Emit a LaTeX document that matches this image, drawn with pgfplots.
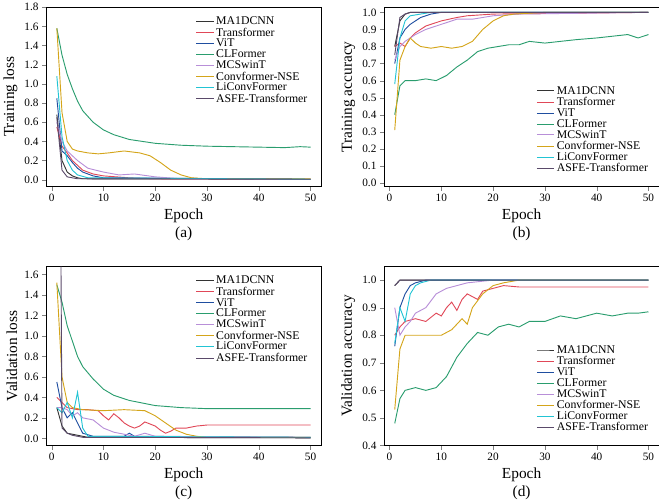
\documentclass[border=0pt]{standalone}
\usepackage{pgfplots}
\pgfplotsset{compat=1.18}
\usepgfplotslibrary{groupplots}
\usepackage{fontspec}
\setmainfont{Liberation Serif}
\definecolor{cA}{HTML}{333333}
\definecolor{cB}{HTML}{E04858}
\definecolor{cC}{HTML}{1F4EA0}
\definecolor{cD}{HTML}{2A9D6E}
\definecolor{cE}{HTML}{B88FD8}
\definecolor{cF}{HTML}{D4A51A}
\definecolor{cG}{HTML}{22C4D4}
\definecolor{cH}{HTML}{5A4A6A}
\begin{document}
\begin{tikzpicture}
\begin{groupplot}[group style={group size=2 by 2, horizontal sep=62pt, vertical sep=78pt},
 scale only axis, width=268pt, height=175pt,
 xmin=-1, xmax=52, xtick={0,10,...,50},
 /pgf/number format/assume math mode=true,
 tick label style={font=\fontsize{11}{12}\selectfont},
 label style={font=\fontsize{15}{17}\selectfont},
 xlabel style={align=center},
 legend style={draw=none, fill=none, font=\fontsize{11.5}{12}\selectfont, row sep=-2.5pt},
 legend cell align=left,
 every axis plot/.append style={line width=0.9pt, no marks},
 tick align=outside, xtick pos=bottom, ytick pos=left,
 yticklabel style={/pgf/number format/fixed, /pgf/number format/precision=1, /pgf/number format/fixed zerofill},
 xticklabel style={/pgf/number format/precision=0}]
% (a)
\nextgroupplot[ylabel={Training loss}, xlabel={Epoch\\(a)}, ymin=-0.07, ymax=1.8, ytick={0,0.2,...,1.8}, legend pos=north east]
\addplot[cA] coordinates {(1,0.68)(2,0.2)(3,0.08)(4,0.04)(5,0.02)(6,0.01)(50,0.005)};
\addplot[cB] coordinates {(1,0.55)(2,0.35)(3,0.28)(4,0.2)(5,0.15)(6,0.1)(8,0.06)(10,0.04)(15,0.02)(20,0.01)(50,0.005)};
\addplot[cC] coordinates {(1,0.85)(2,0.3)(3,0.25)(4,0.18)(5,0.12)(6,0.08)(8,0.04)(10,0.02)(50,0.005)};
\addplot[cD] coordinates {(1,1.58)(2,1.3)(3,1.1)(4,0.95)(5,0.82)(6,0.72)(8,0.6)(10,0.52)(12,0.47)(15,0.42)(20,0.38)(25,0.36)(30,0.35)(35,0.345)(40,0.34)(45,0.335)(48,0.345)(50,0.34)};
\addplot[cE] coordinates {(1,0.6)(2,0.4)(3,0.3)(5,0.2)(7,0.12)(10,0.08)(13,0.05)(16,0.06)(20,0.03)(25,0.01)(50,0.005)};
\addplot[cF] coordinates {(1,1.58)(2,0.7)(3,0.4)(4,0.32)(5,0.3)(7,0.28)(9,0.27)(11,0.28)(14,0.3)(17,0.28)(19,0.25)(21,0.18)(23,0.1)(25,0.05)(27,0.02)(30,0.01)(50,0.01)};
\addplot[cG] coordinates {(1,1.08)(2,0.45)(3,0.2)(4,0.1)(5,0.05)(7,0.02)(50,0.005)};
\addplot[cH] coordinates {(1,0.65)(2,0.1)(3,0.03)(5,0.01)(50,0.005)};
\legend{MA1DCNN,Transformer,ViT,CLFormer,MCSwinT,Convformer-NSE,LiConvFormer,ASFE-Transformer}
% (b)
\nextgroupplot[ylabel={Training accuracy}, xlabel={Epoch\\(b)}, ymin=-0.02, ymax=1.03, ytick={0,0.1,...,1.0}, legend style={at={(0.98,0.05)}, anchor=south east}]
\addplot[cA] coordinates {(1,0.8)(2,0.95)(3,0.99)(4,1)(50,1)};
\addplot[cB] coordinates {(1,0.8)(2,0.82)(3,0.8)(4,0.85)(5,0.88)(7,0.92)(10,0.95)(13,0.97)(15,0.98)(20,0.99)(50,1)};
\addplot[cC] coordinates {(1,0.7)(2,0.85)(3,0.9)(4,0.93)(6,0.97)(8,0.99)(10,1)(50,1)};
\addplot[cD] coordinates {(1,0.4)(2,0.57)(3,0.6)(5,0.6)(7,0.61)(9,0.6)(11,0.63)(13,0.68)(15,0.72)(17,0.77)(19,0.79)(21,0.8)(23,0.81)(25,0.81)(27,0.83)(30,0.82)(33,0.83)(36,0.84)(40,0.85)(43,0.86)(46,0.87)(48,0.85)(50,0.87)};
\addplot[cE] coordinates {(1,0.72)(2,0.8)(3,0.83)(5,0.87)(7,0.9)(10,0.93)(13,0.96)(16,0.96)(20,0.98)(25,0.99)(50,1)};
\addplot[cF] coordinates {(1,0.31)(2,0.72)(3,0.8)(4,0.85)(5,0.82)(6,0.8)(8,0.79)(10,0.8)(12,0.79)(14,0.8)(16,0.83)(18,0.9)(20,0.95)(22,0.98)(24,0.99)(30,1)(50,1)};
\addplot[cG] coordinates {(1,0.58)(2,0.85)(3,0.95)(4,0.98)(6,0.99)(8,1)(50,1)};
\addplot[cH] coordinates {(1,0.75)(2,0.97)(3,0.99)(4,1)(50,1)};
\legend{MA1DCNN,Transformer,ViT,CLFormer,MCSwinT,Convformer-NSE,LiConvFormer,ASFE-Transformer}
% (c)
\nextgroupplot[ylabel={Validation loss}, xlabel={Epoch\\(c)}, ymin=-0.07, ymax=1.68, ytick={0,0.2,...,1.6}, legend pos=north east]
\addplot[cA] coordinates {(1,0.3)(2,0.12)(3,0.05)(4,0.04)(5,0.03)(7,0.01)(50,0.005)};
\addplot[cB] coordinates {(1,0.4)(2,0.35)(3,0.3)(5,0.28)(7,0.28)(9,0.27)(10,0.22)(11,0.18)(12,0.24)(13,0.2)(14,0.15)(15,0.12)(16,0.1)(17,0.12)(18,0.16)(19,0.14)(20,0.12)(21,0.08)(22,0.05)(23,0.07)(24,0.1)(26,0.1)(28,0.12)(30,0.13)(35,0.13)(40,0.13)(50,0.13)};
\addplot[cC] coordinates {(1,0.55)(2,0.3)(3,0.2)(4,0.25)(5,0.15)(6,0.05)(8,0.02)(10,0.02)(14,0.02)(15,0.05)(16,0.02)(50,0.01)};
\addplot[cD] coordinates {(1,1.5)(2,1.33)(3,1.1)(4,0.95)(5,0.8)(6,0.7)(8,0.58)(10,0.48)(12,0.42)(15,0.37)(20,0.32)(25,0.3)(30,0.29)(40,0.29)(50,0.29)};
\addplot[cE] coordinates {(1,0.3)(2,0.3)(3,0.28)(4,0.22)(5,0.25)(6,0.2)(8,0.18)(10,0.1)(12,0.06)(14,0.04)(16,0.02)(18,0.05)(20,0.02)(50,0.01)};
\addplot[cF] coordinates {(1,1.52)(2,0.6)(3,0.35)(4,0.3)(6,0.28)(10,0.27)(14,0.28)(18,0.27)(20,0.22)(22,0.15)(24,0.08)(26,0.04)(28,0.02)(30,0.01)(50,0.01)};
\addplot[cG] coordinates {(1,0.3)(2,0.25)(3,0.35)(4,0.2)(5,0.45)(6,0.1)(7,0.02)(50,0.01)};
\addplot[cH] coordinates {(1.8,1.68)(2,0.1)(3,0.05)(4,0.03)(6,0.01)(50,0.005)};
\legend{MA1DCNN,Transformer,ViT,CLFormer,MCSwinT,Convformer-NSE,LiConvFormer,ASFE-Transformer}
% (d)
\nextgroupplot[ylabel={Validation accuracy}, xlabel={Epoch\\(d)}, ymin=0.4, ymax=1.05, ytick={0.4,0.5,...,1.0}, legend style={at={(0.98,0.05)}, anchor=south east}]
\addplot[cA] coordinates {(1,0.98)(2,1)(50,1)};
\addplot[cB] coordinates {(1,0.8)(2,0.83)(3,0.85)(5,0.86)(7,0.85)(9,0.88)(10,0.87)(11,0.9)(12,0.92)(13,0.89)(14,0.93)(15,0.95)(16,0.94)(17,0.93)(18,0.96)(20,0.97)(22,0.98)(25,0.975)(30,0.975)(50,0.975)};
\addplot[cC] coordinates {(1,0.76)(2,0.9)(3,0.95)(4,0.98)(5,0.99)(7,1)(50,1)};
\addplot[cD] coordinates {(1,0.48)(2,0.57)(3,0.6)(5,0.61)(7,0.6)(9,0.61)(11,0.65)(13,0.72)(15,0.77)(17,0.81)(19,0.8)(21,0.83)(23,0.84)(25,0.83)(27,0.85)(30,0.85)(33,0.87)(36,0.86)(40,0.88)(43,0.87)(46,0.88)(48,0.88)(50,0.885)};
\addplot[cE] coordinates {(1,0.9)(2,0.8)(3,0.83)(4,0.85)(5,0.88)(7,0.9)(9,0.95)(11,0.97)(13,0.98)(15,0.99)(20,1)(50,1)};
\addplot[cF] coordinates {(1,0.53)(2,0.75)(3,0.8)(5,0.8)(8,0.8)(10,0.8)(12,0.82)(14,0.86)(15,0.84)(16,0.9)(18,0.95)(20,0.98)(22,0.99)(25,1)(50,1)};
\addplot[cG] coordinates {(1,0.77)(2,0.9)(3,0.85)(4,0.95)(5,0.98)(6,0.99)(8,1)(50,1)};
\addplot[cH] coordinates {(1,0.98)(2,1)(50,1)};
\legend{MA1DCNN,Transformer,ViT,CLFormer,MCSwinT,Convformer-NSE,LiConvFormer,ASFE-Transformer}
\end{groupplot}
\end{tikzpicture}
\end{document}
